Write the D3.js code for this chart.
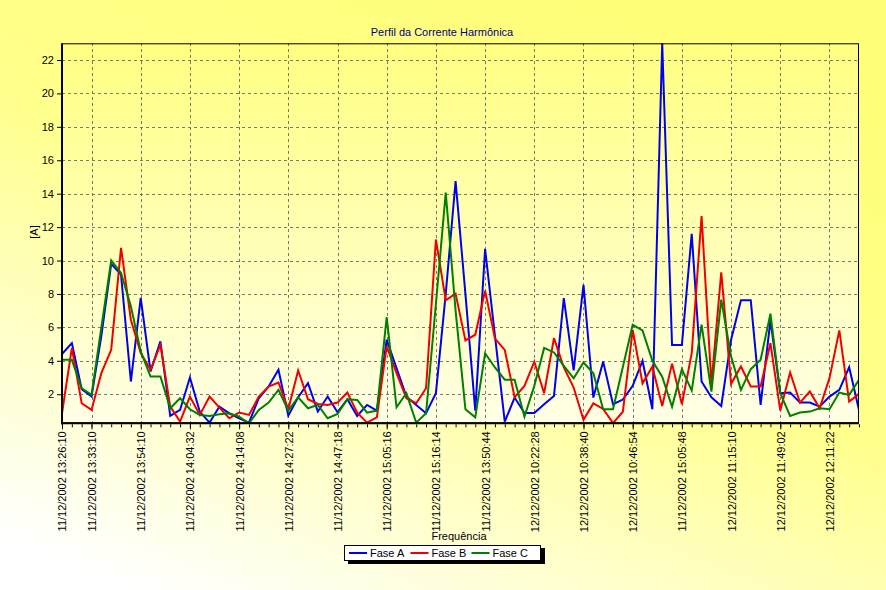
<!DOCTYPE html>
<html>
<head>
<meta charset="utf-8">
<script src="https://cdn.jsdelivr.net/npm/d3@7"></script>
<style>
  html, body { margin: 0; padding: 0; }
  body { width: 886px; height: 590px; overflow: hidden; }
  text { font-family: 'Liberation Sans', Arial, sans-serif; }
</style>
</head>
<body>
<svg id="chart" width="886" height="590"></svg>
<script>
// ---------------- DATA ----------------
const title = "Perfil da Corrente Harmônica";
const yAxisTitle = "[A]";
const xAxisTitle = "Frequência";

const seriesNames = ["Fase A", "Fase B", "Fase C"];
const seriesColors = ["#0000F0", "#F00000", "#007F00"];

const faseA = [4.4, 5.06, 2.3, 1.86, 5.5, 9.8, 9.16, 2.76, 7.76, 3.36,
  5.16, 0.7, 1.06, 3.0, 0.96, 0.3, 1.26, 0.86, 0.56, 0.3,
  1.76, 2.46, 3.46, 0.72, 1.82, 2.66, 0.96, 1.86, 0.92, 1.7,
  0.7, 1.36, 1.02, 5.26, 3.56, 1.86, 1.36, 0.86, 2.06, 8.0,
  14.76, 8.0, 1.02, 10.7, 5.5, 0.36, 1.8, 0.88, 0.88, 1.4,
  1.9, 7.75, 3.43, 8.55, 1.8, 3.95, 1.4, 1.68, 2.5, 4.0,
  1.1, 23.0, 4.95, 4.95, 11.6, 2.76, 1.82, 1.3, 5.26, 7.62,
  7.62, 1.36, 6.42, 2.06, 2.1, 1.5, 1.5, 1.26, 1.86, 2.26,
  3.62, 1.06];

const faseB = [0.86, 4.76, 1.46, 1.06, 3.26, 4.66, 10.76, 6.46, 4.46, 3.46,
  4.96, 1.26, 0.36, 1.86, 0.76, 1.86, 1.2, 0.56, 0.9, 0.76,
  1.86, 2.46, 2.7, 1.1, 3.42, 1.7, 1.42, 1.36, 1.5, 2.1,
  0.9, 0.3, 0.62, 4.86, 3.26, 1.76, 1.46, 2.36, 11.26, 7.62,
  8.02, 5.22, 5.56, 8.2, 5.33, 4.65, 1.82, 2.5, 3.95, 2.06,
  5.36, 3.6, 2.4, 0.47, 1.45, 1.12, 0.27, 0.95, 5.85, 2.65,
  3.65, 1.3, 3.83, 1.4, 4.46, 12.66, 2.62, 9.3, 2.62, 3.66,
  2.46, 2.46, 5.06, 1.02, 3.3, 1.5, 2.16, 1.16, 2.96, 5.82,
  1.56, 2.02];

const faseC = [4.06, 4.06, 2.36, 1.96, 6.0, 10.0, 9.26, 7.26, 4.56, 3.06,
  3.06, 1.16, 1.76, 1.1, 0.76, 0.7, 0.8, 0.86, 0.66, 0.26,
  1.06, 1.5, 2.26, 1.02, 1.82, 1.16, 1.36, 0.56, 0.82, 1.7,
  1.66, 0.9, 1.02, 6.62, 1.22, 2.06, 0.3, 0.86, 7.4, 14.06,
  7.0, 1.1, 0.62, 4.45, 3.6, 2.87, 2.87, 0.65, 2.5, 4.77,
  4.5, 3.7, 2.95, 3.9, 3.25, 1.1, 1.1, 3.63, 6.15, 5.82,
  4.0, 3.05, 1.25, 3.5, 2.22, 6.16, 2.16, 7.66, 4.26, 2.26,
  3.5, 4.06, 6.82, 2.06, 0.7, 0.9, 0.96, 1.16, 1.1, 2.1,
  1.96, 2.86];

// positions (sample index) of the category labels shown on the x axis
const tickIndex = [0, 3, 8, 13, 18, 23, 28, 33, 38, 43, 48, 53, 58, 63, 68, 73, 78];
const tickLabels = [
  "11/12/2002 13:26:10", "11/12/2002 13:33:10", "11/12/2002 13:54:10",
  "11/12/2002 14:04:32", "11/12/2002 14:14:08", "11/12/2002 14:27:22",
  "11/12/2002 14:47:18", "11/12/2002 15:05:16", "11/12/2002 15:16:14",
  "11/12/2002 13:50:44", "12/12/2002 10:22:28", "12/12/2002 10:38:40",
  "12/12/2002 10:46:54", "11/12/2002 15:05:48", "12/12/2002 11:15:10",
  "12/12/2002 11:49:02", "12/12/2002 12:11:22"];
const yTicks = [2, 4, 6, 8, 10, 12, 14, 16, 18, 20, 22];

// ---------------- CHART ----------------
const series = [faseA, faseB, faseC];
const n = faseA.length;
const W = 886, H = 590;
const plot = {left: 62, right: 859, top: 43.3, bottom: 423.3};

const svg = d3.select("#chart");
const defs = svg.append("defs");

const bgGrad = defs.append("linearGradient").attr("id", "bgGrad")
  .attr("x1", "0.75").attr("y1", "0").attr("x2", "0.15").attr("y2", "1");
bgGrad.append("stop").attr("offset", "0").attr("stop-color", "#FFFF78");
bgGrad.append("stop").attr("offset", "0.45").attr("stop-color", "#FFFF8C");
bgGrad.append("stop").attr("offset", "1").attr("stop-color", "#FFFFFF");

const plotGrad = defs.append("linearGradient").attr("id", "plotGrad")
  .attr("x1", "0").attr("y1", "0").attr("x2", "0").attr("y2", "1");
plotGrad.append("stop").attr("offset", "0").attr("stop-color", "#FFFF80");
plotGrad.append("stop").attr("offset", "1").attr("stop-color", "#FFFFE6");

defs.append("clipPath").attr("id", "plotClip").append("rect")
  .attr("x", plot.left).attr("y", plot.top - 1)
  .attr("width", plot.right - plot.left).attr("height", plot.bottom - plot.top + 1);

svg.append("rect").attr("width", W).attr("height", H).attr("fill", "url(#bgGrad)");
svg.append("rect").attr("x", plot.left).attr("y", plot.top)
  .attr("width", plot.right - plot.left).attr("height", plot.bottom - plot.top)
  .attr("fill", "url(#plotGrad)");

const allVals = series.flat();
const x = d3.scaleLinear().domain([0, n - 1]).range([plot.left, plot.right]);
const y = d3.scaleLinear().domain([d3.min(allVals), d3.max(allVals)]).range([plot.bottom, plot.top]);

// grid
const grid = svg.append("g").attr("stroke", "#7a7a6a").attr("stroke-width", 1)
  .attr("stroke-dasharray", "3,3").attr("shape-rendering", "crispEdges");
grid.selectAll("line.h").data(yTicks).join("line").attr("class", "h")
  .attr("x1", plot.left).attr("x2", plot.right)
  .attr("y1", d => Math.round(y(d)) + 0.5).attr("y2", d => Math.round(y(d)) + 0.5);
grid.selectAll("line.v").data(tickIndex.filter(d => d > 0)).join("line").attr("class", "v")
  .attr("y1", plot.top).attr("y2", plot.bottom)
  .attr("x1", d => Math.round(x(d)) + 0.5).attr("x2", d => Math.round(x(d)) + 0.5);

// series lines
const line = d3.line().x((d, i) => x(i)).y(d => y(d));
const lines = svg.append("g").attr("clip-path", "url(#plotClip)");
series.forEach((s, k) => {
  lines.append("path").datum(s).attr("d", line)
    .attr("fill", "none").attr("stroke", seriesColors[k]).attr("stroke-width", 2)
    .attr("stroke-linejoin", "miter");
});

// frame
svg.append("rect").attr("x", plot.left + 0.5).attr("y", plot.top + 0.5)
  .attr("width", plot.right - plot.left - 1).attr("height", plot.bottom - plot.top - 1)
  .attr("fill", "none").attr("stroke", "#000").attr("stroke-width", 1);
svg.append("line").attr("x1", plot.left).attr("x2", plot.left)
  .attr("y1", plot.top).attr("y2", plot.bottom + 1).attr("stroke", "#000").attr("stroke-width", 2);
svg.append("line").attr("x1", plot.left - 1).attr("x2", plot.right)
  .attr("y1", plot.bottom).attr("y2", plot.bottom).attr("stroke", "#000").attr("stroke-width", 2);

// y axis
const yAxis = d3.axisLeft(y).tickValues(yTicks).tickSize(4).tickPadding(3).tickFormat(d3.format("d"));
const yg = svg.append("g").attr("transform", `translate(${plot.left - 1},0)`).call(yAxis);
yg.select(".domain").remove();
yg.selectAll("text").attr("font-size", 11).attr("fill", "#000")
  .style("font-family", "'Liberation Sans', Arial, sans-serif");
yg.selectAll("line").attr("stroke", "#000");

// x axis minor ticks (every sample)
const xMinor = d3.axisBottom(x).tickValues(d3.range(n)).tickSize(3).tickFormat("");
const xmg = svg.append("g").attr("transform", `translate(0,${plot.bottom + 1})`).call(xMinor);
xmg.select(".domain").remove();
xmg.selectAll("line").attr("stroke", "#000");

// x axis major ticks with rotated labels
const xAxis = d3.axisBottom(x).tickValues(tickIndex).tickSize(5)
  .tickFormat((d, i) => tickLabels[i]);
const xg = svg.append("g").attr("transform", `translate(0,${plot.bottom + 1})`).call(xAxis);
xg.select(".domain").remove();
xg.selectAll("line").attr("stroke", "#000");
xg.selectAll("text")
  .attr("font-size", 11).attr("fill", "#000")
  .style("font-family", "'Liberation Sans', Arial, sans-serif")
  .attr("text-anchor", "end")
  .attr("transform", "rotate(-90)")
  .attr("x", -7).attr("y", 0).attr("dy", "0.36em");

// titles
svg.append("text").attr("x", 442).attr("y", 35.5).attr("text-anchor", "middle")
  .attr("font-size", 11).attr("fill", "#000080").text(title);
svg.append("text").attr("transform", "translate(38,232) rotate(-90)")
  .attr("text-anchor", "middle").attr("font-size", 11).attr("fill", "#000").text(yAxisTitle);
svg.append("text").attr("x", 459).attr("y", 540).attr("text-anchor", "middle")
  .attr("font-size", 11).attr("fill", "#000").text(xAxisTitle);

// legend
const lg = svg.append("g");
lg.append("rect").attr("x", 348).attr("y", 548).attr("width", 197).attr("height", 16).attr("fill", "#000");
lg.append("rect").attr("x", 344.5).attr("y", 545.5).attr("width", 196).attr("height", 15)
  .attr("fill", "#fff").attr("stroke", "#000").attr("stroke-width", 1);
const legendX = [349, 410.5, 471.5];
seriesNames.forEach((name, k) => {
  lg.append("line").attr("x1", legendX[k]).attr("x2", legendX[k] + 18)
    .attr("y1", 553).attr("y2", 553).attr("stroke", seriesColors[k]).attr("stroke-width", 2);
  lg.append("text").attr("x", legendX[k] + 21).attr("y", 557)
    .attr("font-size", 11).attr("fill", "#000").text(name);
});
</script>
</body>
</html>
